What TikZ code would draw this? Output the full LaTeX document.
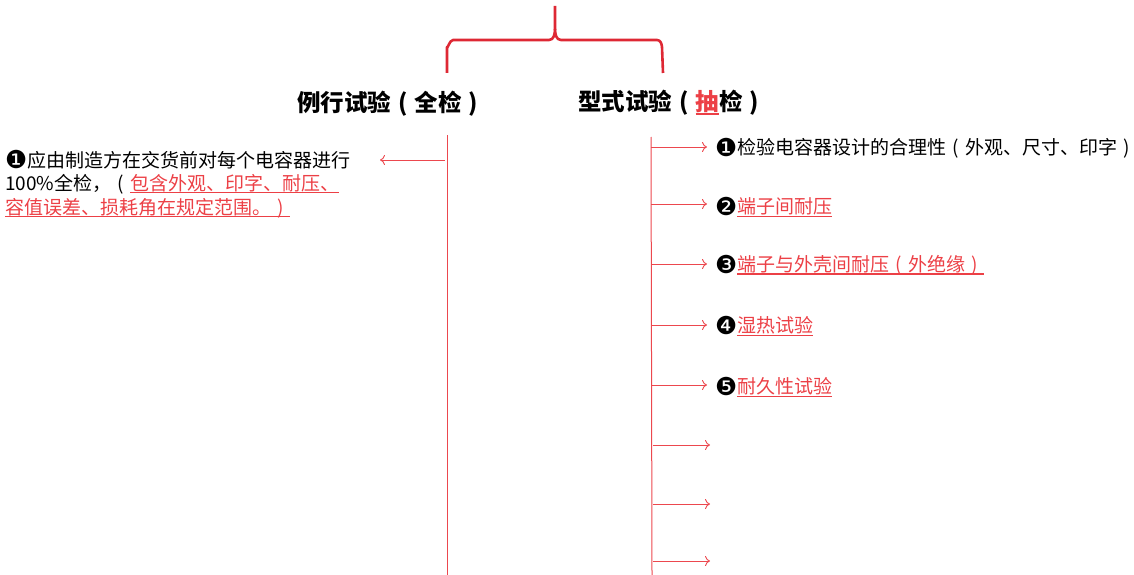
\documentclass[tikz,border=0pt]{standalone}
\usepackage{fontspec}
\setmainfont{Noto Sans CJK SC}
\newfontfamily\dingfont{DejaVu Sans}
\usetikzlibrary{arrows.meta}
\definecolor{bred}{RGB}{222,40,52}
\definecolor{lred}{RGB}{236,72,78}
\definecolor{tred}{RGB}{236,64,70}
\newcommand{\cnum}[1]{\raisebox{-0.08em}{\dingfont\fontsize{1.3em}{1.3em}\selectfont #1}}
\newcommand{\lp}{\makebox[1em]{(}}
\newcommand{\rp}{\makebox[1em]{)}}
\newsavebox\myulbox
\newcommand{\myul}[1]{\sbox\myulbox{#1}\rlap{\rule[-0.17em]{\wd\myulbox}{1.4pt}}\usebox\myulbox}
\tikzset{
  brace/.style={draw=bred,line width=2.6pt,line join=round},
  trunk/.style={draw=lred,line width=1pt},
  branch/.style={draw=lred,line width=0.9pt,-{To[length=5pt,width=10pt]}},
  titletext/.style={font=\fontsize{23.5}{28}\selectfont\bfseries,inner sep=0pt},
  item/.style={font=\fontsize{19}{23}\selectfont,inner sep=0pt,anchor=west},
}
\begin{document}
\begin{tikzpicture}[x=1pt,y=-1pt]
\useasboundingbox (0,0) rectangle (1134,575);
% brace
\draw[brace] (447,73) -- (447,47) to[out=-90,in=180] (453,40) -- (549,40) to[out=0,in=-90] (555,29) -- (555,6);
\draw[brace] (555,29) to[out=-90,in=180] (561,40) -- (657,40) to[out=0,in=95] (662,47) -- (663,73);
% titles
\node[titletext] (rt) at (391,104) {例行试验\lp 全检\rp};
\node[titletext] (tt) at (672,103) {型式试验\lp\textcolor{tred}{\myul{抽}}检\rp};
% left trunk
\coordinate (lt) at (447,135);
\coordinate (lb) at (447,575);
\draw[trunk] (lt) -- (lb);
% left text
\node[item] (l1) at (5,160) {\cnum{❶}应由制造方在交货前对每个电容器进行};
\node[item] (l2) at (5,184) {100\%全检\makebox[1em]{，}\lp\textcolor{tred}{\myul{包含外观、印字、耐压、}}};
\node[item] (l3) at (5,208) {\textcolor{tred}{\myul{容值误差、损耗角在规定范围。\rp}}};
\coordinate (la) at (445,160);
\coordinate (lae) at (380,160);
\draw[branch] (la) -- (lae);
% right trunk
\coordinate (rt0) at (651,137);
\coordinate (rb) at (652,575);
\draw[trunk] (rt0) -- (rb);
% right items
\node[item] (i1) at (715,148) {\cnum{❶}检验电容器设计的合理性\lp 外观、尺寸、印字\rp};
\node[item] (i2) at (715,207) {\cnum{❷}\textcolor{tred}{\myul{端子间耐压}}};
\node[item] (i3) at (715,265) {\cnum{❸}\textcolor{tred}{\myul{端子与外壳间耐压\lp 外绝缘\rp}}};
\node[item] (i4) at (715,326) {\cnum{❹}\textcolor{tred}{\myul{湿热试验}}};
\node[item] (i5) at (715,387) {\cnum{❺}\textcolor{tred}{\myul{耐久性试验}}};
\coordinate (s1) at (651,147);
\coordinate (s2) at (651,204);
\coordinate (s3) at (651,264);
\coordinate (s4) at (651,325);
\coordinate (s5) at (652,385);
\coordinate (s6) at (653,445);
\coordinate (s7) at (653,504);
\coordinate (s8) at (653,561);
\coordinate (e6) at (710,445);
\coordinate (e7) at (710,504);
\coordinate (e8) at (710,561);
\draw[branch,shorten >=8pt] (s1) -- (s1 -| i1.west);
\draw[branch,shorten >=8pt] (s2) -- (s2 -| i2.west);
\draw[branch,shorten >=8pt] (s3) -- (s3 -| i3.west);
\draw[branch,shorten >=8pt] (s4) -- (s4 -| i4.west);
\draw[branch,shorten >=8pt] (s5) -- (s5 -| i5.west);
\draw[branch] (s6) -- (e6);
\draw[branch] (s7) -- (e7);
\draw[branch] (s8) -- (e8);
\end{tikzpicture}
\end{document}
